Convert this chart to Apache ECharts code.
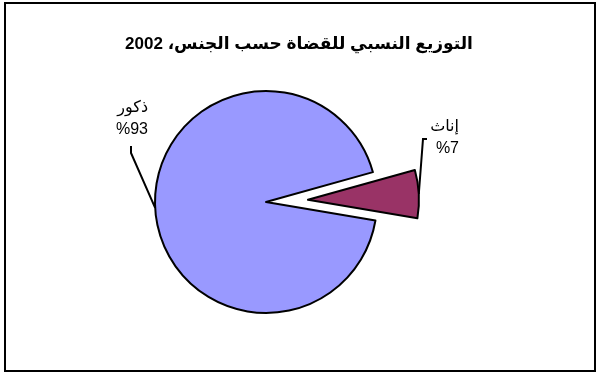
<!DOCTYPE html>
<html>
<head>
<meta charset="utf-8">
<script src="https://cdn.jsdelivr.net/npm/echarts@6/dist/echarts.min.js"></script>
<style>
html, body { margin: 0; padding: 0; background: #fff; }
#chart { width: 598px; height: 374px; }
</style>
</head>
<body>
<div id="chart"></div>
<script>
// data
var titleText = 'التوزيع النسبي للقضاة حسب الجنس، 2002';
var categories = ['ذكور', 'إناث'];
var shares = [93, 7];
var sliceColors = ['#9999FF', '#993366'];

var font = '"Liberation Sans", "DejaVu Sans", Arial, sans-serif';

// pie geometry; the small slice is pulled out along its mid angle
var pieCenter = [266, 202];
var pieRadius = 111;
var startAngle = 350.4;
var explode = 42;
var femaleMid = (startAngle - 360 * (shares[0] + shares[1] / 2) / 100) * Math.PI / 180;
var explodedCenter = [pieCenter[0] + explode * Math.cos(femaleMid), pieCenter[1] - explode * Math.sin(femaleMid)];

// label anchors (top-right corner of each two-line label)
var labelAnchors = [[148, 97], [459, 116]];
var labelLineEnds = [[[131, 153], [131, 146]], [[423, 139], [427, 139]]];

var hidden = {
    itemStyle: { color: 'rgba(0,0,0,0)', borderWidth: 0 },
    label: { show: false },
    labelLine: { show: false }
};

function makeSeries(showIndex, center) {
    return {
        type: 'pie',
        center: center,
        radius: [0, pieRadius],
        startAngle: startAngle,
        clockwise: true,
        silent: true,
        emphasis: { disabled: true },
        itemStyle: { borderColor: '#000', borderWidth: 2 },
        label: {
            show: true,
            position: 'outside',
            formatter: function (p) { return p.name + '\n%' + p.value; },
            fontFamily: font,
            fontSize: 16,
            lineHeight: 22,
            color: '#000'
        },
        labelLine: { show: true, smooth: false, lineStyle: { color: '#000', width: 2 } },
        labelLayout: function (params) {
            var i = params.dataIndex;
            var p0 = params.labelLinePoints ? params.labelLinePoints[0] : null;
            var res = { x: labelAnchors[i][0], y: labelAnchors[i][1], align: 'right', verticalAlign: 'top' };
            if (p0) res.labelLinePoints = [p0].concat(labelLineEnds[i]);
            return res;
        },
        data: categories.map(function (c, i) {
            var d = { name: c, value: shares[i], itemStyle: { color: sliceColors[i] } };
            if (i !== showIndex) {
                d.itemStyle = hidden.itemStyle;
                d.label = hidden.label;
                d.labelLine = hidden.labelLine;
            }
            return d;
        })
    };
}

var chart = echarts.init(document.getElementById('chart'));
chart.setOption({
    animation: false,
    title: {
        text: titleText,
        left: 'center',
        top: 31,
        textStyle: { fontFamily: font, fontSize: 17, fontWeight: 'bold', color: '#000' }
    },
    graphic: [{
        type: 'rect',
        shape: { x: 5, y: 3, width: 590, height: 368 },
        style: { fill: 'none', stroke: '#000', lineWidth: 2 }
    }],
    series: [
        makeSeries(0, pieCenter),
        makeSeries(1, explodedCenter)
    ]
});
</script>
</body>
</html>
